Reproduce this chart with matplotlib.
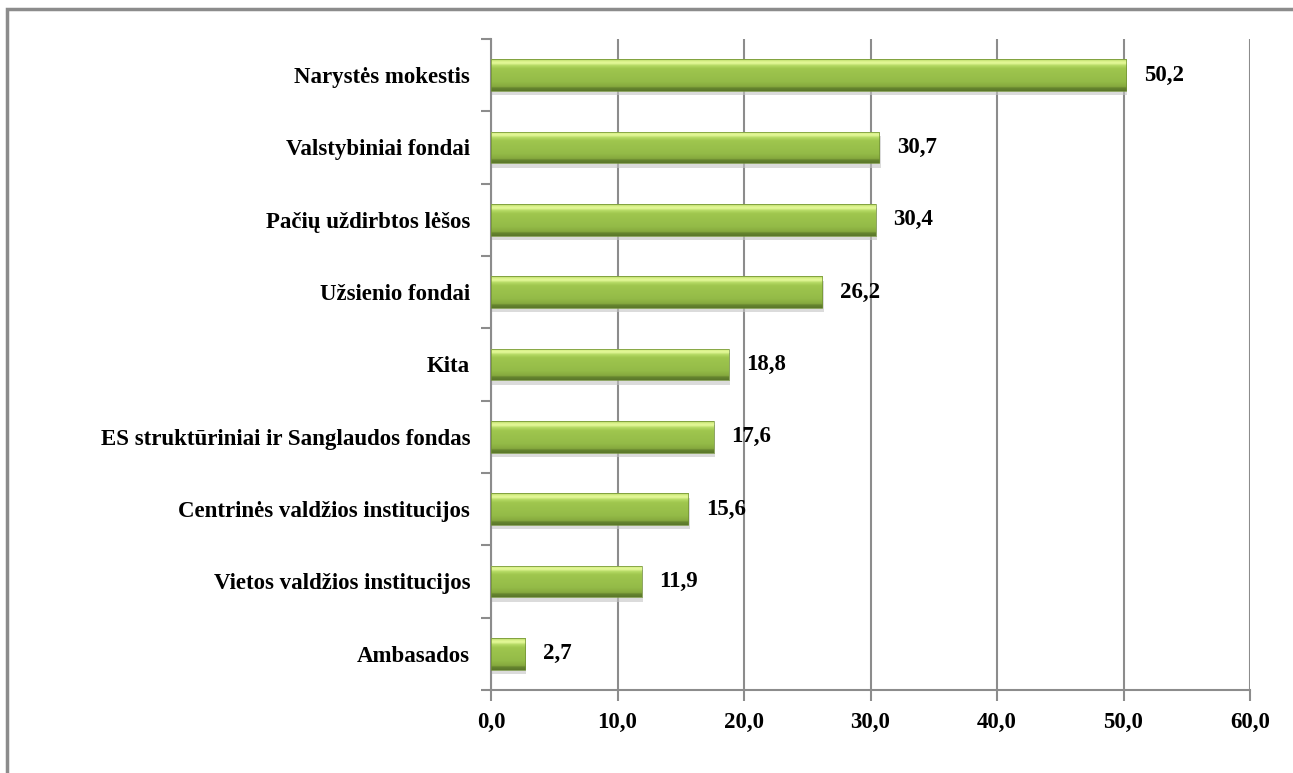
import numpy as np
import matplotlib.pyplot as plt
from matplotlib.patches import Rectangle
from matplotlib.colors import LinearSegmentedColormap

categories = ['Narystės mokestis', 'Valstybiniai fondai', 'Pačių uždirbtos lėšos',
              'Užsienio fondai', 'Kita', 'ES struktūriniai ir Sanglaudos fondas',
              'Centrinės valdžios institucijos', 'Vietos valdžios institucijos', 'Ambasados']
values = [50.2, 30.7, 30.4, 26.2, 18.8, 17.6, 15.6, 11.9, 2.7]
xticks = [0, 10, 20, 30, 40, 50, 60]

plt.rcParams['font.family'] = ['Liberation Serif', 'DejaVu Serif']
plt.rcParams['font.weight'] = 'bold'
fs = 16.5

fig = plt.figure(figsize=(12.93, 7.73), dpi=100)
ax = fig.add_axes([491 / 1293, 1 - 690 / 773, (1250 - 491) / 1293, (690 - 39) / 773])

# outer chart frame (left and top edges visible)
fig.patches.append(Rectangle((7 / 1293, -0.1), 1.2, 1 - 9 / 773 + 0.1, transform=fig.transFigure,
                             fill=False, edgecolor='#8c8c8c', linewidth=2.5))

y = np.arange(len(categories))
h = 0.44
cmap = LinearSegmentedColormap.from_list('g', [(0, '#5b772a'), (0.09, '#66852f'), (0.13, '#86a93e'),
                                               (0.3, '#94bb48'), (0.7, '#9fc64e'), (0.8, '#b3d862'),
                                               (0.88, '#e6f99a'), (0.95, '#d6ef86'), (1, '#a9cc58')])
grad = np.linspace(0, 1, 64).reshape(-1, 1)
for yi, v in zip(y, values):
    # soft shadow below/right of bar
    ax.add_patch(Rectangle((0.1, yi - h / 2 + 0.06), v, h, facecolor='#c4c4c4', edgecolor='none',
                           alpha=0.6, zorder=2))
    bar = Rectangle((0, yi - h / 2), v, h, facecolor='none', edgecolor='#6f8f34', linewidth=0.5, zorder=4)
    ax.add_patch(bar)
    im = ax.imshow(grad, cmap=cmap, aspect='auto', origin='lower',
                   extent=(0, v, yi + h / 2, yi - h / 2), zorder=3)
    im.set_clip_path(bar)
    ax.text(v + 1.4, yi, f'{v:.1f}'.replace('.', ','), va='center', ha='left',
            fontsize=fs, fontweight='bold')

ax.set_xlim(0, 60)
ax.set_ylim(len(categories) - 0.5, -0.5)
ax.set_xticks(xticks)
ax.set_xticklabels([f'{t:.1f}'.replace('.', ',') for t in xticks], fontsize=fs, fontweight='bold')
ax.set_yticks(y)
ax.set_yticklabels(categories, fontsize=fs, fontweight='bold')
ax.set_yticks(np.arange(-0.5, len(categories), 1), minor=True)
ax.tick_params(axis='y', which='major', length=0, pad=15)
ax.tick_params(axis='y', which='minor', length=7, width=1.5, color='#8c8c8c')
ax.tick_params(axis='x', length=8, width=1.5, color='#8c8c8c', pad=8)
ax.grid(axis='x', color='#8c8c8c', linewidth=1.5, zorder=1)
ax.set_axisbelow(True)
for s in ['top', 'right']:
    ax.spines[s].set_visible(False)
for s in ['left', 'bottom']:
    ax.spines[s].set_color('#8c8c8c')
    ax.spines[s].set_linewidth(1.5)

fig.savefig('out.png', dpi=100)
